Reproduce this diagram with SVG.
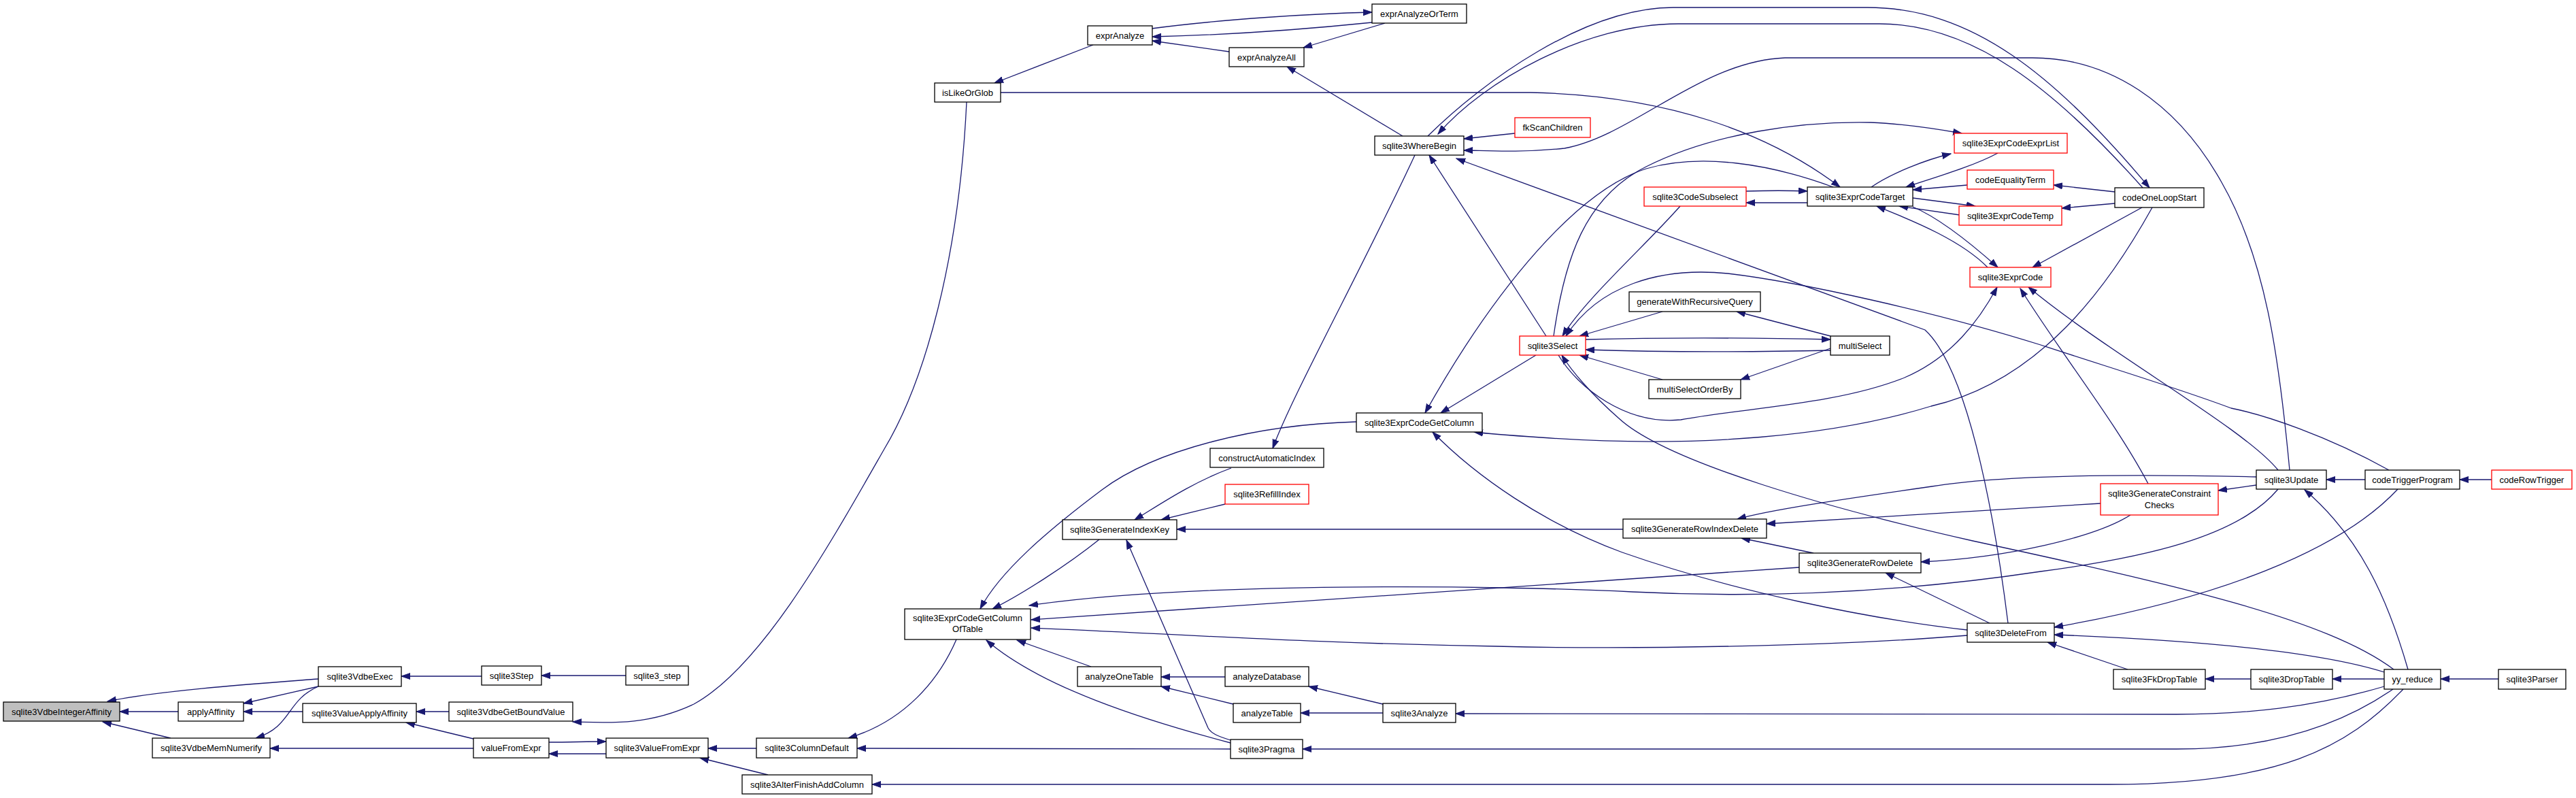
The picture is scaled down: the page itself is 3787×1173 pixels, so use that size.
<svg xmlns="http://www.w3.org/2000/svg" width="3787" height="1173" viewBox="0 0 3787 1173">
<defs>
<style>
.box{fill:#fff;stroke:#000;stroke-width:1.3}
.red{stroke:#ff0000}
.root{fill:#bfbfbf}
text{font-family:"Liberation Sans",Arial,sans-serif;font-size:13px;text-anchor:middle;fill:#000}
.e{fill:none;stroke:#191970;stroke-width:1.3;marker-end:url(#a)}
</style>
<marker id="a" markerUnits="userSpaceOnUse" markerWidth="15" markerHeight="11" refX="13" refY="5" orient="auto">
<path d="M0,0.5 L13,5 L0,9.5 z" fill="#191970" stroke="#191970" stroke-width="1"/>
</marker>
</defs>
<rect x="0" y="0" width="3787" height="1173" fill="#fff"/>
<g id="edges">
<path class="e" d="M262,1046 L176,1046"/>
<path class="e" d="M251,1085 L151,1061"/>
<path class="e" d="M468,998 C390,1004 240,1014 158,1031"/>
<path class="e" d="M468,1009 L358,1034"/>
<path class="e" d="M468,1009 C420,1030 430,1068 376,1085"/>
<path class="e" d="M445,1046 L358,1046"/>
<path class="e" d="M708,994 L590,994"/>
<path class="e" d="M920,993 L796,993"/>
<path class="e" d="M660,1046 L612,1046"/>
<path class="e" d="M696,1086 L597,1062"/>
<path class="e" d="M696,1100 L397,1100"/>
<path class="e" d="M807,1091 C840,1091 860,1090 891,1090"/>
<path class="e" d="M891,1108 C860,1108 840,1108 807,1108"/>
<path class="e" d="M1421,150 C1410,380 1360,560 1300,660 C1220,800 1120,980 1020,1035 C950,1068 890,1062 842,1061"/>
<path class="e" d="M1112,1100 L1041,1100"/>
<path class="e" d="M1129,1139 L1029,1114"/>
<path class="e" d="M1406,940 C1380,1000 1330,1060 1247,1085"/>
<path class="e" d="M1809,1101 L1260,1100"/>
<path class="e" d="M1809,1092 C1680,1058 1530,1010 1450,941"/>
<path class="e" d="M1809,1088 C1790,1082 1780,1078 1776,1070 L1656,794"/>
<path class="e" d="M1604,980 L1495,941"/>
<path class="e" d="M1801,995 L1707,995"/>
<path class="e" d="M1813,1035 L1707,1009"/>
<path class="e" d="M2033,1035 L1924,1009"/>
<path class="e" d="M2033,1048 L1912,1048"/>
<path class="e" d="M1616,793 C1570,830 1500,875 1459,895"/>
<path class="e" d="M1810,688 C1750,710 1700,745 1668,764"/>
<path class="e" d="M1801,741 L1707,764"/>
<path class="e" d="M2386,778 L1730,778"/>
<path class="e" d="M1994,620 C1850,624 1700,660 1620,720 C1540,780 1470,840 1441,895"/>
<path class="e" d="M2080,228 C2000,400 1900,580 1871,659"/>
<path class="e" d="M1607,66 L1462,122"/>
<path class="e" d="M1693,42 C1800,28 1930,20 2017,18"/>
<path class="e" d="M2017,33 C1900,45 1780,52 1694,54"/>
<path class="e" d="M1807,76 L1694,60"/>
<path class="e" d="M2036,34 L1916,70"/>
<path class="e" d="M2062,200 L1892,98"/>
<path class="e" d="M1471,136 L2250,136 C2450,140 2600,195 2705,275"/>
<path class="e" d="M2227,196 L2152,204"/>
<path class="e" d="M2099,200 C2180,120 2330,11 2460,11 L2745,11 C2900,11 3020,110 3160,276"/>
<path class="e" d="M3150,276 C3020,130 2900,35 2763,35 L2467,35 C2330,35 2180,120 2114,197"/>
<path class="e" d="M3366,691 C3350,520 3330,380 3266,268 C3200,150 3100,85 2988,85 L2624,85 C2500,90 2400,200 2300,218 C2230,225 2180,221 2152,221"/>
<path class="e" d="M2273,494 L2101,228"/>
<path class="e" d="M2952,916 C2930,740 2890,540 2830,485 L2141,233"/>
<path class="e" d="M2258,522 L2118,607"/>
<path class="e" d="M2695,275 C2600,240 2500,225 2420,248 C2320,280 2200,420 2095,607"/>
<path class="e" d="M2284,494 C2300,380 2330,290 2420,245 C2520,195 2650,178 2750,180 C2800,182 2850,190 2884,196"/>
<path class="e" d="M2470,303 C2420,360 2330,440 2297,494"/>
<path class="e" d="M3512,691 C3420,640 3330,610 3280,600 C3200,570 3100,540 3000,507 C2850,460 2650,415 2540,402 C2440,392 2350,420 2302,494"/>
<path class="e" d="M2691,494 L2553,458"/>
<path class="e" d="M2691,512 L2559,558"/>
<path class="e" d="M2331,499 C2450,496 2600,497 2691,499"/>
<path class="e" d="M2691,515 C2600,517 2450,518 2331,514"/>
<path class="e" d="M2444,458 L2322,494"/>
<path class="e" d="M2444,558 L2322,522"/>
<path class="e" d="M3519,984 C3420,910 3200,860 2900,795 C2700,750 2450,680 2380,615 C2340,580 2310,545 2296,522"/>
<path class="e" d="M2291,522 C2320,570 2390,625 2471,617 C2560,600 2700,595 2800,555 C2870,525 2910,470 2936,422"/>
<path class="e" d="M2567,281 C2600,280 2630,280 2657,281"/>
<path class="e" d="M2657,298 C2630,298 2600,298 2567,298"/>
<path class="e" d="M2751,275 C2780,255 2830,235 2868,226"/>
<path class="e" d="M2937,225 C2900,245 2840,262 2802,275"/>
<path class="e" d="M2892,272 L2812,279"/>
<path class="e" d="M2812,291 L2904,303"/>
<path class="e" d="M2881,316 L2792,303"/>
<path class="e" d="M3109,282 L3019,272"/>
<path class="e" d="M3109,299 L3031,306"/>
<path class="e" d="M2812,304 C2850,320 2900,360 2937,393"/>
<path class="e" d="M2922,393 C2880,350 2800,320 2759,303"/>
<path class="e" d="M3149,305 L2988,393"/>
<path class="e" d="M3164,305 C3100,420 3000,560 2839,597 C2700,640 2500,660 2265,643 C2220,640 2190,638 2167,635"/>
<path class="e" d="M3349,691 C3300,630 3100,520 2982,422"/>
<path class="e" d="M3158,711 C3110,620 3030,520 2970,424"/>
<path class="e" d="M3317,701 C3150,697 2950,697 2840,715 C2700,735 2600,750 2554,763"/>
<path class="e" d="M3088,740 L2597,770"/>
<path class="e" d="M3317,713 L3261,721"/>
<path class="e" d="M3132,757 C3080,790 2950,820 2824,826"/>
<path class="e" d="M2666,813 L2560,791"/>
<path class="e" d="M2925,916 L2772,842"/>
<path class="e" d="M3349,719 C3290,790 3150,820 3000,840 C2800,870 2600,880 2400,870 C2200,860 1750,855 1513,890"/>
<path class="e" d="M2645,834 L1516,911"/>
<path class="e" d="M2892,934 C2700,950 2400,955 2200,950 C1900,945 1700,930 1516,923"/>
<path class="e" d="M2892,926 C2750,910 2550,870 2385,812 C2270,770 2170,700 2106,635"/>
<path class="e" d="M3477,705 L3420,705"/>
<path class="e" d="M3663,705 L3616,705"/>
<path class="e" d="M3525,719 C3440,810 3260,880 3020,922"/>
<path class="e" d="M3505,988 C3400,955 3200,940 3020,933"/>
<path class="e" d="M3540,984 C3510,880 3470,790 3388,720"/>
<path class="e" d="M3128,984 L3010,944"/>
<path class="e" d="M3309,998 L3242,998"/>
<path class="e" d="M3505,998 L3429,998"/>
<path class="e" d="M3673,998 L3588,998"/>
<path class="e" d="M3505,1009 C3400,1040 3300,1050 3200,1050 L2140,1049"/>
<path class="e" d="M3518,1013 C3450,1060 3350,1101 3200,1101 L1915,1101"/>
<path class="e" d="M3533,1013 C3450,1100 3350,1153 3100,1153 L1282,1153"/>
</g>
<g id="n1"><rect class="box root" x="5" y="1032" width="171" height="28"/><text x="90.5" y="1050.5">sqlite3VdbeIntegerAffinity</text></g>
<g id="n2"><rect class="box" x="262" y="1032" width="96" height="28"/><text x="310" y="1050.5">applyAffinity</text></g>
<g id="n3"><rect class="box" x="224" y="1085" width="173" height="29"/><text x="310.5" y="1104">sqlite3VdbeMemNumerify</text></g>
<g id="n4"><rect class="box" x="468" y="980" width="122" height="29"/><text x="529" y="999">sqlite3VdbeExec</text></g>
<g id="n5"><rect class="box" x="445" y="1034" width="167" height="28"/><text x="528.5" y="1052.5">sqlite3ValueApplyAffinity</text></g>
<g id="n6"><rect class="box" x="708" y="979" width="88" height="28"/><text x="752" y="997.5">sqlite3Step</text></g>
<g id="n7"><rect class="box" x="920" y="979" width="92" height="28"/><text x="966" y="997.5">sqlite3_step</text></g>
<g id="n8"><rect class="box" x="660" y="1032" width="182" height="28"/><text x="751" y="1050.5">sqlite3VdbeGetBoundValue</text></g>
<g id="n9"><rect class="box" x="696" y="1085" width="111" height="29"/><text x="751.5" y="1104">valueFromExpr</text></g>
<g id="n10"><rect class="box" x="891" y="1085" width="150" height="29"/><text x="966" y="1104">sqlite3ValueFromExpr</text></g>
<g id="n11"><rect class="box" x="1112" y="1085" width="148" height="29"/><text x="1186" y="1104">sqlite3ColumnDefault</text></g>
<g id="n12"><rect class="box" x="1091" y="1139" width="191" height="28"/><text x="1186.5" y="1157.5">sqlite3AlterFinishAddColumn</text></g>
<g id="n13"><rect class="box" x="1374" y="122" width="97" height="28"/><text x="1422.5" y="140.5">isLikeOrGlob</text></g>
<g id="n14"><rect class="box" x="1599" y="38" width="95" height="28"/><text x="1646.5" y="56.5">exprAnalyze</text></g>
<g id="n15"><rect class="box" x="1807" y="70" width="110" height="28"/><text x="1862" y="88.5">exprAnalyzeAll</text></g>
<g id="n16"><rect class="box" x="2017" y="6" width="139" height="28"/><text x="2086.5" y="24.5">exprAnalyzeOrTerm</text></g>
<g id="n17"><rect class="box" x="2021" y="200" width="131" height="28"/><text x="2086.5" y="218.5">sqlite3WhereBegin</text></g>
<g id="n18"><rect class="box red" x="2227" y="173" width="111" height="29"/><text x="2282.5" y="192">fkScanChildren</text></g>
<g id="n19"><rect class="box" x="1330" y="895" width="185" height="45"/><text x="1422.5" y="912.5">sqlite3ExprCodeGetColumn</text><text x="1422.5" y="929">OfTable</text></g>
<g id="n20"><rect class="box" x="1562" y="764" width="168" height="29"/><text x="1646" y="783">sqlite3GenerateIndexKey</text></g>
<g id="n21"><rect class="box" x="1779" y="659" width="167" height="28"/><text x="1862.5" y="677.5">constructAutomaticIndex</text></g>
<g id="n22"><rect class="box red" x="1801" y="712" width="123" height="29"/><text x="1862.5" y="731">sqlite3RefillIndex</text></g>
<g id="n23"><rect class="box" x="1584" y="980" width="123" height="29"/><text x="1645.5" y="999">analyzeOneTable</text></g>
<g id="n24"><rect class="box" x="1801" y="980" width="123" height="29"/><text x="1862.5" y="999">analyzeDatabase</text></g>
<g id="n25"><rect class="box" x="1813" y="1034" width="99" height="28"/><text x="1862.5" y="1052.5">analyzeTable</text></g>
<g id="n26"><rect class="box" x="2033" y="1034" width="107" height="28"/><text x="2086.5" y="1052.5">sqlite3Analyze</text></g>
<g id="n27"><rect class="box" x="1809" y="1087" width="106" height="28"/><text x="1862" y="1105.5">sqlite3Pragma</text></g>
<g id="n28"><rect class="box" x="1994" y="607" width="185" height="28"/><text x="2086.5" y="625.5">sqlite3ExprCodeGetColumn</text></g>
<g id="n29"><rect class="box" x="2386" y="763" width="211" height="28"/><text x="2491.5" y="781.5">sqlite3GenerateRowIndexDelete</text></g>
<g id="n30"><rect class="box" x="2645" y="813" width="179" height="29"/><text x="2734.5" y="832">sqlite3GenerateRowDelete</text></g>
<g id="n31"><rect class="box red" x="2234" y="494" width="97" height="28"/><text x="2282.5" y="512.5">sqlite3Select</text></g>
<g id="n32"><rect class="box red" x="2417" y="275" width="150" height="28"/><text x="2492" y="293.5">sqlite3CodeSubselect</text></g>
<g id="n33"><rect class="box" x="2657" y="275" width="155" height="28"/><text x="2734.5" y="293.5">sqlite3ExprCodeTarget</text></g>
<g id="n34"><rect class="box red" x="2873" y="196" width="166" height="29"/><text x="2956" y="215">sqlite3ExprCodeExprList</text></g>
<g id="n35"><rect class="box red" x="2892" y="250" width="127" height="28"/><text x="2955.5" y="268.5">codeEqualityTerm</text></g>
<g id="n36"><rect class="box red" x="2880" y="303" width="151" height="28"/><text x="2955.5" y="321.5">sqlite3ExprCodeTemp</text></g>
<g id="n37"><rect class="box red" x="2896" y="393" width="119" height="29"/><text x="2955.5" y="412">sqlite3ExprCode</text></g>
<g id="n38"><rect class="box" x="2395" y="429" width="193" height="29"/><text x="2491.5" y="448">generateWithRecursiveQuery</text></g>
<g id="n39"><rect class="box" x="2691" y="494" width="87" height="28"/><text x="2734.5" y="512.5">multiSelect</text></g>
<g id="n40"><rect class="box" x="2424" y="558" width="135" height="28"/><text x="2491.5" y="576.5">multiSelectOrderBy</text></g>
<g id="n41"><rect class="box" x="3109" y="276" width="131" height="29"/><text x="3174.5" y="295">codeOneLoopStart</text></g>
<g id="n42"><rect class="box red" x="3088" y="711" width="173" height="46"/><text x="3174.5" y="729.5">sqlite3GenerateConstraint</text><text x="3174.5" y="747">Checks</text></g>
<g id="n43"><rect class="box" x="3317" y="691" width="103" height="28"/><text x="3368.5" y="709.5">sqlite3Update</text></g>
<g id="n44"><rect class="box" x="3477" y="691" width="139" height="28"/><text x="3546.5" y="709.5">codeTriggerProgram</text></g>
<g id="n45"><rect class="box red" x="3663" y="691" width="118" height="28"/><text x="3722" y="709.5">codeRowTrigger</text></g>
<g id="n46"><rect class="box" x="2892" y="916" width="128" height="28"/><text x="2956" y="934.5">sqlite3DeleteFrom</text></g>
<g id="n47"><rect class="box" x="3107" y="984" width="135" height="29"/><text x="3174.5" y="1003">sqlite3FkDropTable</text></g>
<g id="n48"><rect class="box" x="3309" y="984" width="120" height="29"/><text x="3369" y="1003">sqlite3DropTable</text></g>
<g id="n49"><rect class="box" x="3505" y="984" width="83" height="29"/><text x="3546.5" y="1003">yy_reduce</text></g>
<g id="n50"><rect class="box" x="3673" y="984" width="99" height="29"/><text x="3722.5" y="1003">sqlite3Parser</text></g>
</svg>
